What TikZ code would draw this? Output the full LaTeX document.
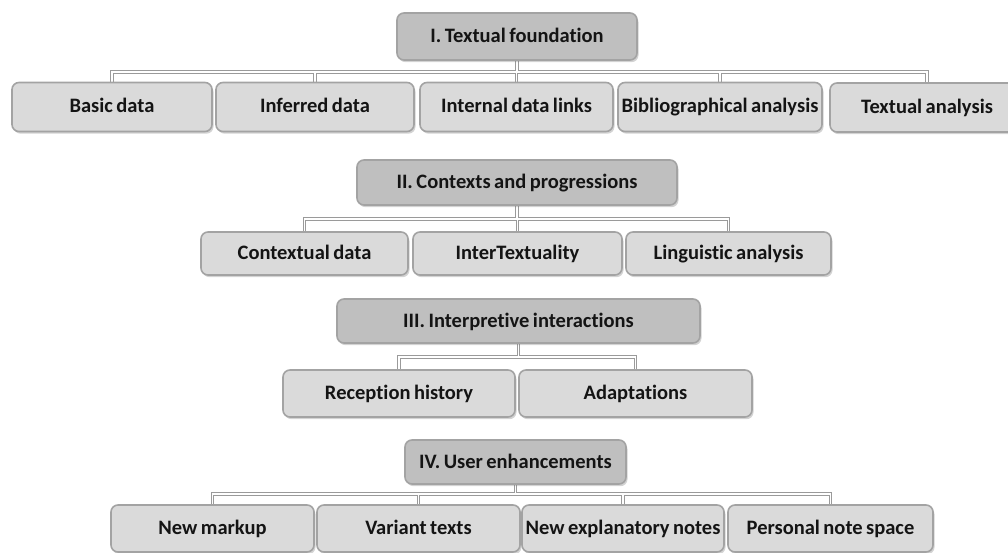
\documentclass[tikz,border=0pt]{standalone}
\usepackage{fontspec}
\setmainfont{Carlito}[Ligatures=NoCommon, WordSpace=0.75]
\usetikzlibrary{shadows,backgrounds}
\definecolor{childfill}{HTML}{DADADA}
\definecolor{headfill}{HTML}{BFBFBF}
\definecolor{boxline}{HTML}{A3A3A3}
\definecolor{txt}{HTML}{141414}
\definecolor{connline}{HTML}{9A9A9A}
\begin{document}
\begin{tikzpicture}[x=1pt,y=-1pt,
  base/.style={draw=boxline, line width=1.6pt, rounded corners=7pt, text=txt,
    font=\bfseries\fontsize{20.5}{22}\selectfont, inner sep=0pt,
    text height=15pt, text depth=3pt,
    drop shadow={shadow xshift=1.5pt, shadow yshift=-2.2pt, opacity=0.35}},
  childbox/.style={base, fill=childfill},
  headbox/.style={base, fill=headfill},
]
\clip (0,0) rectangle (1008,553);
\useasboundingbox (0,0) rectangle (1008,553);

% Group I
\node[headbox, minimum width=240pt, minimum height=47pt] (h1) at (517,36.5) {I. Textual foundation};
\node[childbox, minimum width=200pt, minimum height=49pt] (a1) at (112,107) {Basic data};
\node[childbox, minimum width=198pt, minimum height=49pt] (a2) at (315,107) {Inferred data};
\node[childbox, minimum width=193pt, minimum height=49pt] (a3) at (516.5,107) {Internal data links};
\node[childbox, minimum width=204pt, minimum height=49pt] (a4) at (720,107) {Bibliographical analysis};
\node[childbox, minimum width=194pt, minimum height=49pt] (a5) at (927,107.5) {Textual analysis};
\coordinate (bus1) at (0,72);

% Group II
\node[headbox, minimum width=320pt, minimum height=45pt] (h2) at (517,182.5) {II. Contexts and progressions};
\node[childbox, minimum width=207pt, minimum height=43pt] (b1) at (304.5,253.5) {Contextual data};
\node[childbox, minimum width=209pt, minimum height=43pt] (b2) at (517.5,253.5) {InterTextuality};
\node[childbox, minimum width=205pt, minimum height=43pt] (b3) at (728.5,253.5) {Linguistic analysis};
\coordinate (bus2) at (0,219);

% Group III
\node[headbox, minimum width=363pt, minimum height=44pt] (h3) at (518.5,321) {III. Interpretive interactions};
\node[childbox, minimum width=232pt, minimum height=47pt] (c1) at (399,393.5) {Reception history};
\node[childbox, minimum width=233pt, minimum height=47pt] (c2) at (635.5,393.5) {Adaptations};
\coordinate (bus3) at (0,357);

% Group IV
\node[headbox, minimum width=221pt, minimum height=44pt] (h4) at (515.5,462) {IV. User enhancements};
\node[childbox, minimum width=203pt, minimum height=47pt] (d1) at (212.5,528.5) {New markup};
\node[childbox, minimum width=203pt, minimum height=47pt] (d2) at (418.5,528.5) {Variant texts};
\node[childbox, minimum width=202pt, minimum height=47pt] (d3) at (623,528.5) {New explanatory notes};
\node[childbox, minimum width=205pt, minimum height=47pt] (d4) at (830.5,528.5) {Personal note space};
\coordinate (bus4) at (0,494);

\begin{scope}[on background layer]
\foreach \col/\wd in {connline/3.8pt, white/1.3pt} {
  \foreach \c in {a1,a2,a3,a4,a5}
    \draw[draw=\col, line width=\wd] (h1.south) -- (h1.south |- bus1) -| (\c.north);
  \foreach \c in {b1,b2,b3}
    \draw[draw=\col, line width=\wd] (h2.south) -- (h2.south |- bus2) -| (\c.north);
  \foreach \c in {c1,c2}
    \draw[draw=\col, line width=\wd] (h3.south) -- (h3.south |- bus3) -| (\c.north);
  \foreach \c in {d1,d2,d3,d4}
    \draw[draw=\col, line width=\wd] (h4.south) -- (h4.south |- bus4) -| (\c.north);
}
\end{scope}
\end{tikzpicture}
\end{document}
